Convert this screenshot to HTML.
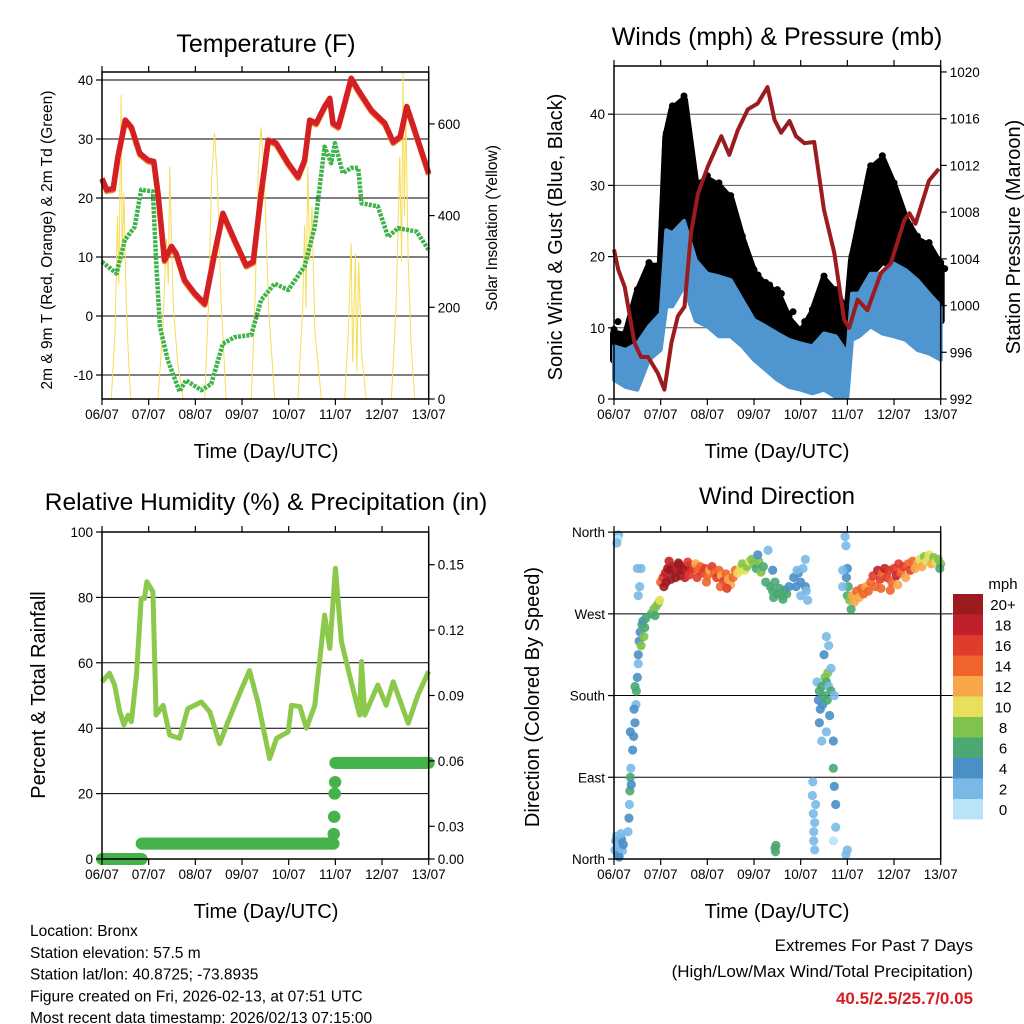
<!DOCTYPE html>
<html><head><meta charset="utf-8"><style>
html,body{margin:0;padding:0;background:#fff;}
svg{display:block;font-family:"Liberation Sans",Arial,sans-serif;}
</style></head><body>
<svg id="chart" width="1024" height="1024" viewBox="0 0 1024 1024" xmlns="http://www.w3.org/2000/svg">
<rect width="1024" height="1024" fill="#fff"/>
</svg>
<script>
// ---------- DATA ----------
const dayLabels = ["06/07","07/07","08/07","09/07","10/07","11/07","12/07","13/07"];
// Temperature (F)
const tempT = [0,0.1,0.24,0.34,0.5,0.63,0.81,0.99,1.11,1.2,1.34,1.49,1.59,1.77,1.99,2.2,2.41,2.59,2.84,3.09,3.24,3.41,3.56,3.73,3.99,4.2,4.34,4.45,4.59,4.77,4.88,4.95,5.06,5.16,5.34,5.49,5.77,6.06,6.24,6.39,6.53,6.7,7.0];
const tempV = [23.3,21.4,21.6,27,33.2,32,27.6,26.4,26.2,20.8,9.5,11.8,10.6,6.1,3.8,2.1,10.6,17.4,12.9,8.6,9.2,20.8,29.8,29.3,25.9,23.6,26.4,33.2,32.7,35.5,36.9,32.7,32.1,34.9,40.3,38.3,34.9,32.7,29.5,30.4,35.5,31.5,24.2];
const dewT = [0,0.31,0.49,0.7,0.84,1.09,1.16,1.24,1.41,1.66,1.8,2.13,2.34,2.59,2.84,3.2,3.41,3.7,3.99,4.34,4.56,4.77,4.91,4.99,5.16,5.34,5.49,5.56,5.91,6.13,6.34,6.74,7.0];
const dewV = [9.2,7.2,12.9,15.1,21.4,21.1,9.4,-1.8,-7.5,-12.8,-10.9,-12.6,-11.5,-4.7,-3.6,-3.2,2.7,5.5,4.4,8.4,15.1,28.7,25.9,29.3,24.2,25.1,25.1,19.1,18.6,13.4,14.9,14.3,11.2];
const solarDays = [
 [[0.2,0],[0.28,150],[0.33,400],[0.36,250],[0.39,500],[0.41,663],[0.43,300],[0.47,450],[0.52,200],[0.58,60],[0.62,0]],
 [[1.2,0],[1.3,150],[1.38,350],[1.42,250],[1.45,506],[1.48,380],[1.53,200],[1.62,80],[1.74,0]],
 [[2.2,0],[2.28,200],[2.35,480],[2.41,580],[2.47,480],[2.55,220],[2.66,0]],
 [[3.2,0],[3.28,220],[3.35,500],[3.41,593],[3.48,480],[3.57,200],[3.7,0]],
 [[4.2,0],[4.3,200],[4.34,380],[4.37,200],[4.41,506],[4.45,300],[4.5,420],[4.56,150],[4.7,0]],
 [[5.2,0],[5.28,150],[5.34,340],[5.37,80],[5.43,318],[5.46,60],[5.5,300],[5.56,100],[5.66,0]],
 [[6.2,0],[6.3,200],[6.38,528],[6.42,300],[6.45,711],[6.48,400],[6.51,640],[6.56,300],[6.62,120],[6.7,0]]
];
const tempTicks = [40,30,20,10,0,-10];
const solarTicks = [0,200,400,600];
// Winds (mph)
const windT = [0,0.25,0.5,0.75,1.0,1.12,1.25,1.5,1.75,2,2.25,2.5,2.75,3,3.25,3.5,3.75,4,4.25,4.5,4.75,5.0,5.1,5.25,5.5,5.75,6,6.25,6.5,6.75,7];
const windHigh = [7.4,6.9,7.8,10.2,12,23.7,23.3,25,19.5,17.6,17.2,16.7,13.9,11.1,10.2,9.2,8.3,7.8,7.4,9.2,8.8,6.4,14.8,14.8,17.6,17.6,19,18.1,16.7,14.8,13];
const windLow = [2.7,1.7,1.3,5.5,6.9,13,13,15.8,11,10.2,8.8,8.8,7.4,5.5,4.1,2.7,1.7,1.3,0.8,1.3,0.3,0.3,8.3,8.8,10.2,9.2,8.8,8.3,6.9,6.4,5.5];
const gustHigh = [9.2,8.8,14.8,18.6,18.6,36.8,40.6,42,29.8,30.8,29.8,28,22.3,17.6,15.8,14.8,11.1,9.2,12,16.7,14.8,12,19.5,24.2,32.2,33.6,29.8,25.1,22.3,21.4,18.6];
const gustLow = [5.5,4.5,5.5,9.2,11,21.9,24.2,25,19.5,18.6,17.6,14.8,12,10.2,9.2,7.8,6.4,5.5,5.5,7.8,6.4,6.4,12,14.8,17.6,19.5,18.6,16.7,14.8,12,11];
const presT = [0,0.09,0.23,0.44,0.58,0.73,0.94,1.08,1.23,1.37,1.51,1.65,1.8,2.01,2.3,2.47,2.65,2.87,3.08,3.29,3.44,3.58,3.76,3.9,4.08,4.29,4.5,4.72,4.93,5.04,5.22,5.43,5.72,5.93,6.22,6.33,6.46,6.75,6.96];
const presV = [1004.8,1003.1,1001.6,996.8,995.6,995.6,994.2,992.8,996.8,999.1,999.9,1006.2,1009.6,1011.9,1014.5,1012.9,1015,1016.8,1017.3,1018.7,1015.9,1014.8,1015.8,1014.5,1013.9,1014,1008.2,1004.5,998.8,998.1,1000.5,999.6,1002.8,1003.6,1007.3,1007.9,1007,1010.7,1011.7];
const windTicks = [0,10,20,30,40];
const presTicks = [992,996,1000,1004,1008,1012,1016,1020];
// Relative humidity (%) & precipitation (in)
const rhT = [0,0.16,0.27,0.38,0.47,0.56,0.63,0.74,0.84,0.91,0.96,1.09,1.16,1.31,1.45,1.66,1.84,2.13,2.31,2.52,2.7,2.99,3.16,3.34,3.59,3.74,3.99,4.06,4.24,4.38,4.56,4.77,4.88,5.0,5.13,5.34,5.52,5.56,5.63,5.91,6.09,6.24,6.56,6.77,7.0];
const rhV = [54.2,56.8,53.2,45.1,41,44,42,56.3,79.7,79.7,84.8,81.7,44,47,37.9,36.9,46,48,45,35.3,42,52,57.6,48,30.7,36.9,38.9,47,46.6,40,47,74.6,64.4,88.9,66.5,54.2,44,60.4,44,53.2,47,54.2,41.5,50.2,57.4];
const precipT = [0,0.8,0.85,4.95,4.96,4.97,4.98,4.99,5.0,7.0];
const precipV = [0,0,0.008,0.008,0.013,0.022,0.034,0.04,0.05,0.05];
const rhTicks = [0,20,40,60,80,100];
const precipTickLabels = ["0.15","0.12","0.09","0.06","0.03","0.00"];
const precipTickPos = [90,70,50,30,10,0];
// Wind direction (deg) coloured by speed (mph)
const wdT = [0.02,0.04,0.06,0.08,0.1,0.12,0.14,0.16,0.18,0.2,0.05,0.11,0.15,0.1,0.08,0.06,
0.3,0.32,0.33,0.34,0.35,0.36,0.37,0.4,0.42,0.45,0.47,0.48,0.5,0.52,0.35,0.45,0.43,
0.52,0.54,0.56,0.58,0.6,0.62,0.64,0.66,0.68,0.55,0.5,0.52,0.58,
0.8,0.85,0.9,0.95,0.98,0.88,
1.0,1.05,1.1,1.15,1.2,1.25,1.3,1.35,1.4,1.45,1.5,1.55,1.6,1.65,1.12,1.22,1.32,1.42,1.52,1.62,1.07,1.18,1.38,1.58,
1.7,1.75,1.8,1.85,1.9,1.95,2.0,2.05,2.1,2.15,2.2,2.25,2.3,2.35,2.4,2.45,2.5,2.55,2.6,1.78,1.98,2.28,2.42,
2.65,2.7,2.75,2.8,2.85,2.9,2.95,3.0,3.05,3.1,3.15,3.2,3.25,3.08,3.3,
3.35,3.4,3.45,3.5,3.55,3.6,3.65,3.7,3.75,3.42,3.62,3.4,
3.85,3.9,3.95,4.0,4.05,4.1,4.12,4.0,3.92,4.15,4.1,
3.45,3.46,3.47,
4.25,4.27,4.28,4.3,4.26,4.3,4.32,4.28,
4.35,4.38,4.4,4.42,4.45,4.47,4.5,4.52,4.55,4.57,4.58,4.6,4.62,4.65,4.4,4.45,4.55,4.5,4.55,4.6,4.65,
4.7,4.72,4.75,4.7,4.75,4.7,4.72,
4.95,4.97,5.0,5.02,5.0,4.98,4.9,4.9,4.97,5.0,
5.05,5.1,5.15,5.2,5.25,5.3,5.35,5.4,5.45,5.08,
5.5,5.55,5.6,5.65,5.7,5.75,5.8,5.85,5.9,5.95,6.0,6.05,6.1,6.15,6.2,6.25,6.3,6.35,6.4,6.45,5.72,5.92,6.08,
6.5,6.55,6.6,6.65,6.7,6.75,6.8,6.85,6.9,6.95,7.0,6.98];
const wdDir = [10,20,8,15,5,18,12,22,9,16,25,2,28,357,352,348,
30,45,60,75,90,100,82,120,135,150,170,185,200,215,140,190,165,
225,240,250,235,258,262,245,255,265,300,320,290,320,
270,275,278,282,285,268,
305,310,315,320,318,322,316,320,324,318,321,317,323,319,305,308,310,312,310,313,300,328,326,327,
320,325,318,322,315,320,312,318,322,315,310,318,312,306,314,308,302,310,318,310,305,300,298,
315,320,325,318,322,328,330,325,320,328,316,322,305,335,340,
300,295,305,292,298,290,296,292,300,288,286,318,
310,300,315,305,320,300,295,290,318,285,330,
12,8,15,
70,50,30,10,85,40,60,20,
195,175,185,165,190,170,180,200,195,175,205,190,158,185,150,130,140,225,245,235,210,
100,80,60,130,35,20,180,
355,345,320,300,290,310,318,300,5,10,
285,290,283,295,288,298,292,300,295,275,
305,312,300,318,308,315,320,310,318,305,320,312,325,315,322,310,325,318,328,320,298,296,302,
325,330,322,333,328,335,325,332,327,330,325,320];
const wdSpd = [3,4,2,3,4,3,2,4,3,5,3,4,2,2,1,2,
3,5,3,6,6,3,5,4,4,5,3,7,4,3,4,6,4,
4,5,4,8,6,5,9,7,6,2,3,3,3,
7,8,9,8,10,6,
14,17,19,21,20,22,21,19,22,20,21,19,20,18,20,21,20,21,19,17,20,18,20,16,
16,12,15,14,17,16,15,13,16,14,16,15,12,16,14,12,13,15,14,17,15,14,17,
11,10,9,11,8,10,9,8,7,9,8,6,7,4,3,
7,6,7,6,7,6,7,6,5,7,6,5,
4,4,5,4,3,4,3,3,3,2,2,
6,6,6,
2,2,3,2,3,2,2,2,
3,4,6,5,6,4,7,8,7,6,8,3,4,6,4,3,3,4,3,3,3,
6,4,4,4,3,1,3,
2,3,4,6,7,5,3,3,2,2,
9,12,13,14,12,15,14,13,15,7,
14,16,15,18,17,14,18,16,17,15,16,18,17,14,16,13,15,17,14,12,15,14,12,
12,10,13,9,11,10,12,8,11,9,8,7];
const speedLabels = ["20+","18","16","14","12","10","8","6","4","2","0"];
const speedColors = ["#9b1b1e","#c0202a","#e03b2b","#f0642b","#f8a748","#e8e05a","#7fc24e","#4aa873","#4a8fc6","#7ab9e5","#b8e3f8"];
const dirTicks = [0,90,180,270,360];
const dirLabels = ["North","East","South","West","North"];

// ---------- HELPERS ----------
const NS = "http://www.w3.org/2000/svg";
const svg = document.getElementById('chart');
function mk(tag, attrs, parent, text) {
  const e = document.createElementNS(NS, tag);
  for (const k in attrs) e.setAttribute(k, attrs[k]);
  if (text !== undefined) e.textContent = text;
  (parent || svg).appendChild(e);
  return e;
}
function grp(name) {
  const g = document.createElementNS(NS, 'g');
  
  
  svg.appendChild(g);
  return g;
}
const PW = 326.7, DAY = PW / 7;
function xAt(left) { return d => left + d * DAY; }
const x1 = xAt(102), x2 = xAt(614);
const yT = v => 80 + (40 - v) * 5.9;
const yS = s => 399 - s * 0.4585;
const yW = w => 399 - w * 7.12;
const yP = p => 399 - (p - 992) * 11.68;
const yR = r => 859 - r * 3.27;
const yPr = p => yR(p * 588);
const yD = d => 859 - d * 0.908;

function pathOf(ts, vs, xf, yf) {
  return ts.map((t, i) => (i ? 'L' : 'M') + xf(t).toFixed(1) + ' ' + yf(vs[i]).toFixed(1)).join('');
}
function frame(g, left, top, bottom, xf) {
  const r = mk('rect', {x: left, y: top, width: PW, height: bottom - top, fill: 'none', stroke: '#000', 'stroke-width': 1.5}, g);
  
  
  dayLabels.forEach((lab, i) => {
    const x = xf(i);
    mk('line', {x1: x, y1: bottom, x2: x, y2: bottom + 6, stroke: '#000', 'stroke-width': 1.2}, g);
    mk('line', {x1: x, y1: top, x2: x, y2: top - 6, stroke: '#000', 'stroke-width': 1.2}, g);
    const t = mk('text', {x: x, y: bottom + 20, 'font-size': 13.5, 'text-anchor': 'middle'}, g, lab);
    
    
  });
}
function text(g, name, x, y, size, str, anchor, rot, extra) {
  const a = {x: x, y: y, 'font-size': size, 'text-anchor': anchor || 'middle'};
  if (rot) a.transform = 'rotate(-90 ' + x + ' ' + y + ')';
  if (extra) for (const k in extra) a[k] = extra[k];
  const t = mk('text', a, g, str);
  
  
  return t;
}
function yTicks(g, vals, yf, xEdge, side, labels, grid, gridRight) {
  vals.forEach((v, i) => {
    const y = yf(v);
    const dx = side === 'left' ? -6 : 6;
    mk('line', {x1: xEdge, y1: y, x2: xEdge + dx, y2: y, stroke: '#000', 'stroke-width': 1.2}, g);
    const lab = labels ? labels[i] : String(v);
    const t = mk('text', {x: side === 'left' ? xEdge - 9 : xEdge + 9, y: y + 5, 'font-size': 13.5, 'text-anchor': side === 'left' ? 'end' : 'start'}, g, lab);
    
    
  });
}

// ---------- PANEL 1: TEMPERATURE ----------
const g1 = grp('temperature-panel');
text(g1, 'temperature-title', 266, 52, 25, 'Temperature (F)');
tempTicks.forEach(v => { mk('line', {x1: 102, y1: yT(v), x2: 102 + PW, y2: yT(v), stroke: '#000', 'stroke-width': 1}, g1); });
solarDays.forEach(day => {
  const p = mk('path', {d: day.map((pt, i) => (i ? 'L' : 'M') + x1(pt[0]).toFixed(1) + ' ' + yS(pt[1]).toFixed(1)).join(''), fill: 'none', stroke: '#f7dd55', 'stroke-width': 1}, g1);
  
  
});
{
  const pd = mk('path', {d: pathOf(dewT, dewV, x1, yT), fill: 'none', stroke: '#3fb34a', 'stroke-width': 4.5, 'stroke-dasharray': '3 1.2', 'stroke-linejoin': 'round'}, g1);
  
  
  const po = mk('path', {d: pathOf(tempT, tempV, x1, yT), fill: 'none', stroke: '#f07a2a', 'stroke-width': 5.5, transform: 'translate(0,1.5)', 'stroke-linejoin': 'round'}, g1);
  
  
  const pr = mk('path', {d: pathOf(tempT, tempV, x1, yT), fill: 'none', stroke: '#d42024', 'stroke-width': 5.5, 'stroke-linejoin': 'round'}, g1);
  
  
}
frame(g1, 102, 72, 399, x1);
yTicks(g1, tempTicks, yT, 102, 'left');
yTicks(g1, solarTicks, yS, 102 + PW, 'right');
text(g1, 'x-axis-title', 266, 458, 20, 'Time (Day/UTC)');
text(g1, 'y-axis-title-left', 52, 240, 15.5, '2m & 9m T (Red, Orange) & 2m Td (Green)', 'middle', true);
text(g1, 'y-axis-title-right', 497, 228, 15.5, 'Solar Insolation (Yellow)', 'middle', true);

// ---------- PANEL 2: WINDS ----------
const g2 = grp('winds-panel');
text(g2, 'winds-title', 777, 45, 25, 'Winds (mph) & Pressure (mb)');
windTicks.forEach(v => { if (v > 0) mk('line', {x1: 614, y1: yW(v), x2: 614 + PW, y2: yW(v), stroke: '#555', 'stroke-width': 1}, g2); });
{
  const bandPath = (lo, hi) => pathOf(windT, hi, x2, yW) + windT.slice().reverse().map(t => 'L' + x2(t).toFixed(1) + ' ' + yW(lo[windT.indexOf(t)]).toFixed(1)).join('') + 'Z';
  const gb = mk('path', {d: bandPath(gustLow, gustHigh), fill: '#000', stroke: '#000', 'stroke-width': 8, 'stroke-linejoin': 'round'}, g2);
  
  
  windT.forEach((t, i) => {
    const c = mk('circle', {cx: x2(t), cy: yW(gustHigh[i]) - 4, r: 3.5, fill: '#000'}, g2);
    
    
    const c2 = mk('circle', {cx: x2(t) + 4, cy: yW((gustHigh[i] + gustLow[i]) / 2) - 25, r: 3.5, fill: '#000'}, g2);
    
    
  });
  const wb = mk('path', {d: bandPath(windLow, windHigh), fill: '#4f96d0', stroke: '#4f96d0', 'stroke-width': 4, 'stroke-linejoin': 'round'}, g2);
  
  
  const pp = mk('path', {d: pathOf(presT, presV, x2, yP), fill: 'none', stroke: '#9b1b1e', 'stroke-width': 4, 'stroke-linejoin': 'round'}, g2);
  
  
}
frame(g2, 614, 66, 399, x2);
yTicks(g2, windTicks, yW, 614, 'left');
yTicks(g2, presTicks, yP, 614 + PW, 'right');
text(g2, 'x-axis-title', 777, 458, 20, 'Time (Day/UTC)');
text(g2, 'y-axis-title-left', 562, 237, 20, 'Sonic Wind & Gust (Blue, Black)', 'middle', true);
text(g2, 'y-axis-title-right', 1020, 237, 20, 'Station Pressure (Maroon)', 'middle', true);

// ---------- PANEL 3: RH & PRECIP ----------
const g3 = grp('humidity-precip-panel');
text(g3, 'humidity-title', 266, 510, 24.5, 'Relative Humidity (%) & Precipitation (in)');
rhTicks.forEach(v => { if (v > 0 && v < 100) mk('line', {x1: 102, y1: yR(v), x2: 102 + PW, y2: yR(v), stroke: '#000', 'stroke-width': 1}, g3); });
{
  const ph = mk('path', {d: pathOf(rhT, rhV, x1, yR), fill: 'none', stroke: '#8cc84b', 'stroke-width': 5, 'stroke-linejoin': 'round'}, g3);
  
  
  for (let i = 0; i < precipT.length - 1; i++) {
    const t0 = precipT[i], t1 = precipT[i + 1];
    const n = Math.max(1, Math.round((t1 - t0) / 0.02));
    for (let k = 0; k <= n; k++) {
      const t = t0 + (t1 - t0) * k / n;
      const c = mk('circle', {cx: x1(t), cy: yPr(precipV[i]), r: 6, fill: '#45b34a'}, g3);
      
      
    }
  }
}
frame(g3, 102, 532, 859, x1);
yTicks(g3, rhTicks, yR, 102, 'left');
yTicks(g3, precipTickPos, yR, 102 + PW, 'right', precipTickLabels);
text(g3, 'x-axis-title', 266, 918, 20, 'Time (Day/UTC)');
text(g3, 'y-axis-title-left', 45, 695, 20, 'Percent & Total Rainfall', 'middle', true);

// ---------- PANEL 4: WIND DIRECTION ----------
const g4 = grp('wind-direction-panel');
text(g4, 'wind-direction-title', 777, 504, 24, 'Wind Direction');
dirTicks.forEach(v => { if (v > 0 && v < 360) mk('line', {x1: 614, y1: yD(v), x2: 614 + PW + 12, y2: yD(v), stroke: '#000', 'stroke-width': 1}, g4); });
function speedColor(s) {
  const bin = Math.min(10, Math.floor(s / 2));
  return speedColors[10 - bin];
}
wdT.forEach((t, i) => {
  const c = mk('circle', {cx: x2(t), cy: yD(wdDir[i]), r: 4.6, fill: speedColor(wdSpd[i]), 'fill-opacity': 0.9}, g4);
  
  
});
frame(g4, 614, 532, 859, x2);
yTicks(g4, dirTicks, yD, 614, 'left', dirLabels);
text(g4, 'x-axis-title', 777, 918, 20, 'Time (Day/UTC)');
text(g4, 'y-axis-title-left', 539, 697, 20, 'Direction (Colored By Speed)', 'middle', true);
const gl = grp('speed-legend');
text(gl, 'legend-title', 1003, 589, 15, 'mph', 'middle');
speedLabels.forEach((lab, i) => {
  const y = 594 + i * 20.5;
  const r = mk('rect', {x: 953, y: y, width: 30, height: 20.5, fill: speedColors[i]}, gl);
  
  
  text(gl, 'legend-label', 1003, y + 16, 15, lab, 'middle');
});

// ---------- FOOTER TEXT ----------
const gf = grp('station-info');
["Location: Bronx","Station elevation: 57.5 m","Station lat/lon: 40.8725; -73.8935","Figure created on Fri, 2026-02-13, at 07:51 UTC","Most recent data timestamp: 2026/02/13 07:15:00"].forEach((s, i) => {
  text(gf, 'info-line', 30, 936 + i * 21.8, 15.5, s, 'start');
});
const ge = grp('extremes-summary');
text(ge, 'extremes-heading', 973, 951, 17, 'Extremes For Past 7 Days', 'end');
text(ge, 'extremes-subheading', 973, 977, 17, '(High/Low/Max Wind/Total Precipitation)', 'end');
text(ge, 'extremes-values', 973, 1004, 17, '40.5/2.5/25.7/0.05', 'end', false, {fill: '#d42024', 'font-weight': 'bold'});
</script>
</body></html>
